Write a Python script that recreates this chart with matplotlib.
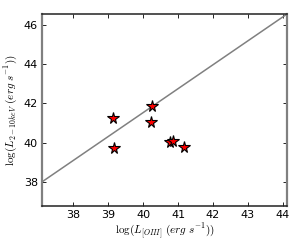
import numpy as np
import matplotlib
matplotlib.use('Agg')
import matplotlib.pyplot as plt

plt.rcParams['mathtext.fontset'] = 'cm'

# log L[OIII] vs log L(2-10 keV)
log_loiii = [39.13, 39.17, 40.25, 40.23, 40.77, 40.87, 41.18]
log_lx = [41.27, 39.72, 41.88, 41.08, 40.06, 40.10, 39.77]

# korelasyon dogrusu
slope = 1.22
intercept = -7.27
xlim = (37.11, 44.12)
ylim = (36.78, 46.56)

fig = plt.figure(figsize=(3.0, 2.4), dpi=100)
ax = fig.add_axes([0.14, 0.142, 0.817, 0.8])

xx = np.array(xlim)
ax.plot(xx, slope * xx + intercept, '-', color='#808080', linewidth=1.1)
ax.plot(log_loiii, log_lx, '*', markersize=8.5, markerfacecolor='red',
        markeredgecolor='black', markeredgewidth=0.8, linestyle='none')

ax.set_xlim(*xlim)
ax.set_ylim(*ylim)
ax.set_xticks([38, 39, 40, 41, 42, 43, 44])
ax.set_yticks([38, 40, 42, 44, 46])
ax.tick_params(direction='in', top=True, right=True, labelsize=8, length=3, width=0.6, pad=3)

for side in ['left', 'right']:
    ax.spines[side].set_color('#808080')
    ax.spines[side].set_linewidth(1.6)
for side in ['top', 'bottom']:
    ax.spines[side].set_color('#222222')
    ax.spines[side].set_linewidth(1.1)

ax.set_xlabel(r'$\log(L_{[OIII]}\ (erg\ s^{-1}))$', fontsize=8, labelpad=1)
ax.set_ylabel(r'$\log(L_{2-10keV}\ (erg\ s^{-1}))$', fontsize=8, labelpad=3)

plt.savefig('out.png', dpi=100)
